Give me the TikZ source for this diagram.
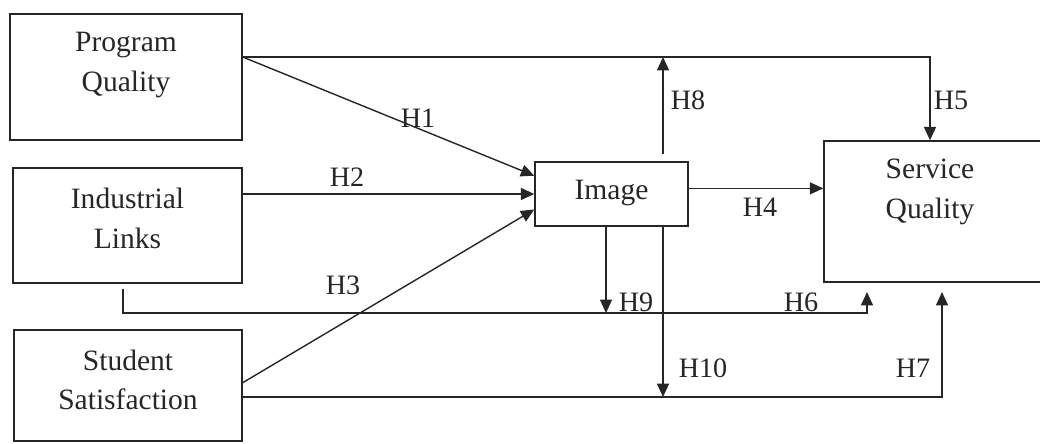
\documentclass[tikz,border=0pt]{standalone}
\usepackage{fontspec}
\setmainfont{Liberation Serif}
\usepackage{tikz}
\usetikzlibrary{arrows.meta,positioning,calc}

\begin{document}
\begin{tikzpicture}[x=0.025cm,y=-0.025cm]
      \tikzstyle{varblock}=[rectangle, draw=black!85, line width=1pt, inner sep=0pt]
      \tikzstyle{vartext}=[align=center, text=black!85, font=\fontsize{21}{28}\selectfont]
      \tikzstyle{hlabel}=[text=black!85, inner sep=0pt, font=\fontsize{20}{24}\selectfont]
      \tikzstyle{link}=[draw=black!85, line width=1pt, -{Triangle[length=9.5pt,width=8.5pt]}]
      \useasboundingbox (0,0) rectangle (1040,443);
      \clip (0,0) rectangle (1040,443);
      % boxes
      \node[varblock, minimum width=5.8cm, minimum height=3.15cm] (pq) at (126,77) {};
      \node[varblock, minimum width=5.725cm, minimum height=2.875cm] (il) at (127.5,225.5) {};
      \node[varblock, minimum width=5.7cm, minimum height=2.775cm] (ss) at (128,385.5) {};
      \node[varblock, minimum width=3.825cm, minimum height=1.6cm] (img) at (611.5,194) {};
      \node[varblock, minimum width=5.425cm, minimum height=3.525cm] (sq) at (932.5,211.5) {};
      \node[vartext] (pqtext) at (126,65) {Program\\Quality};
      \node[vartext] (iltext) at (127.5,218.5) {Industrial\\Links};
      \node[vartext] (sstext) at (128,380) {Student\\Satisfaction};
      \node[vartext] (imgtext) at (611.5,193) {Image};
      \node[vartext] (sqtext) at (930,192) {Service\\Quality};
      % rails
      \coordinate (toprail) at (0,57);
      \coordinate (ilrail) at (0,313);
      \coordinate (ssrail) at (0,397);
      \coordinate (h5x) at (930,0);
      \coordinate (h8x) at (663,0);
      \coordinate (h9x) at (606,0);
      \coordinate (h6end) at (867,292);
      \coordinate (h7end) at (942,292);
      \coordinate (ilx) at (123,0);
      % paths
      \draw[link] (pq.east |- toprail) -| (h5x |- sq.north);
      \draw[link] (pq.east |- toprail) -- ([yshift=13pt]img.west);
      \draw[link] (il.east |- img.west) -- (img.west);
      \draw[link] ([yshift=2pt]ss.east) -- ([yshift=-11pt]img.west);
      \draw[link] ([yshift=4pt]img.east) -- ([yshift=4pt]img.east -| sq.west);
      \draw[link] ($(h8x |- img.north)+(0,-7)$) -- (h8x |- toprail);
      \draw[link] (h9x |- img.south) -- (h9x |- ilrail);
      \draw[link] (h8x |- img.south) -- (h8x |- ssrail);
      \draw[link] ($(ilx |- il.south)+(0,5)$) |- (h6end |- ilrail) -- (h6end);
      \draw[link] (ss.east |- ssrail) -| (h7end);
      % labels
      \node[hlabel] (h1) at (418,118) {H1};
      \node[hlabel] (h2) at (347,177) {H2};
      \node[hlabel] (h3) at (343,285) {H3};
      \node[hlabel] (h4) at (760,207) {H4};
      \node[hlabel] (h5) at (951,100) {H5};
      \node[hlabel] (h6) at (801,302) {H6};
      \node[hlabel] (h7) at (913,368) {H7};
      \node[hlabel] (h8) at (688,100) {H8};
      \node[hlabel] (h9) at (636,302) {H9};
      \node[hlabel] (h10) at (703,368) {H10};
    \end{tikzpicture}
\end{document}
